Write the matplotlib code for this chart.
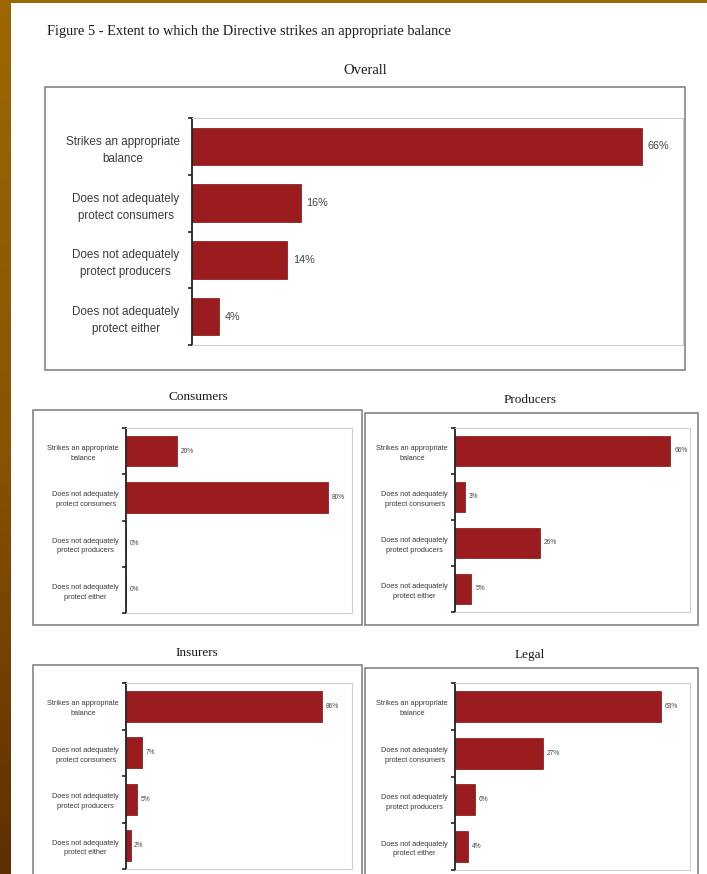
import numpy as np
import matplotlib
matplotlib.use("Agg")
import matplotlib.pyplot as plt
from matplotlib.patches import Rectangle
from matplotlib.colors import LinearSegmentedColormap

# Datos
categorias = ["Strikes an appropriate\nbalance",
              "Does not adequately\nprotect consumers",
              "Does not adequately\nprotect producers",
              "Does not adequately\nprotect either"]
overall = [66, 16, 14, 4]
consumers = [20, 80, 0, 0]
producers = [66, 3, 26, 5]
insurers = [86, 7, 5, 2]
legal = [63, 27, 6, 4]

W, H = 707, 874
fig = plt.figure(figsize=(W / 100, H / 100), dpi=100)
fig.patch.set_facecolor("white")

def fx(x):
    return x / W

def fy(y):
    return 1 - y / H

def caja(x0, y0, x1, y1):
    # marco gris alrededor de cada panel
    fig.add_artist(Rectangle((fx(x0), fy(y1)), fx(x1) - fx(x0), fy(y0) - fy(y1),
                             transform=fig.transFigure, fill=False,
                             ec="#7a7a7a", lw=1.1))

def panel(valores, pos, xmax, fs_lab, fs_pct, offset, pad):
    x0, y0, x1, y1 = pos
    ax = fig.add_axes([fx(x0), fy(y1), fx(x1) - fx(x0), fy(y0) - fy(y1)])
    ypos = np.arange(len(valores))
    ax.barh(ypos, valores, height=0.66, color="#9b1c1e", edgecolor="#7d1010", lw=0.5)
    for y, v in zip(ypos, valores):
        ax.text(v + offset, y, "{}%".format(v), va="center", ha="left",
                fontsize=fs_pct, color="#444444", family="Liberation Sans")
    ax.set_ylim(len(valores) - 0.5, -0.5)
    ax.set_xlim(0, xmax)
    ax.set_xticks([])
    ax.set_yticks(ypos)
    ax.set_yticklabels(categorias, fontsize=fs_lab, color="#3a3a3a", family="Liberation Sans")
    for t in ax.get_yticklabels():
        t.set_multialignment("center")
        t.set_linespacing(1.55)
    ax.tick_params(axis="y", which="major", length=0, pad=pad)
    ax.set_yticks(np.arange(-0.5, len(valores)), minor=True)
    ax.tick_params(axis="y", which="minor", length=3, width=1.2, color="#222222")
    for s in ["top", "right", "bottom"]:
        ax.spines[s].set_color("#cfcfcf")
        ax.spines[s].set_linewidth(0.8)
    ax.spines["left"].set_color("#222222")
    ax.spines["left"].set_linewidth(1.3)
    return ax

# bordes dorados de la pagina
cmap = LinearSegmentedColormap.from_list("borde", ["#9c6800", "#8a5400", "#5e2f00"])
axb = fig.add_axes([0, 0, 11 / W, 1])
axb.imshow(np.linspace(0, 1, 200).reshape(-1, 1), cmap=cmap, aspect="auto")
axb.axis("off")
fig.add_artist(Rectangle((0, fy(3)), 1, 3 / H, transform=fig.transFigure,
                         color="#9c6800", lw=0))

fig.text(fx(47), fy(32), "Figure 5 - Extent to which the Directive strikes an appropriate balance",
         fontsize=10.4, family="Liberation Serif", color="#1a1a1a", va="center", ha="left")

# panel general
fig.text(fx(365), fy(70), "Overall", fontsize=10.5, family="Liberation Serif",
         color="#1a1a1a", ha="center", va="center")
caja(45, 87, 685, 370)
panel(overall, (192, 118, 683, 345), 72, 8.4, 7.8, 0.8, 9)

# paneles pequenos
fig.text(fx(198), fy(397), "Consumers", fontsize=9.5, family="Liberation Serif",
         color="#1a1a1a", ha="center", va="center")
caja(33, 410, 362, 625)
panel(consumers, (126, 428, 352, 613), 89.5, 5.3, 4.8, 1.5, 5)

fig.text(fx(530), fy(400), "Producers", fontsize=9.5, family="Liberation Serif",
         color="#1a1a1a", ha="center", va="center")
caja(365, 413, 698, 625)
panel(producers, (455, 428, 690, 612), 72, 5.3, 4.8, 1.2, 5)

fig.text(fx(197), fy(653), "Insurers", fontsize=9.5, family="Liberation Serif",
         color="#1a1a1a", ha="center", va="center")
caja(33, 665, 362, 880)
panel(insurers, (126, 683, 352, 869), 99, 5.3, 4.8, 1.5, 5)

fig.text(fx(530), fy(655), "Legal", fontsize=9.5, family="Liberation Serif",
         color="#1a1a1a", ha="center", va="center")
caja(365, 668, 698, 880)
panel(legal, (455, 683, 690, 870), 72, 5.3, 4.8, 1.2, 5)

fig.savefig("out.png", dpi=100)
